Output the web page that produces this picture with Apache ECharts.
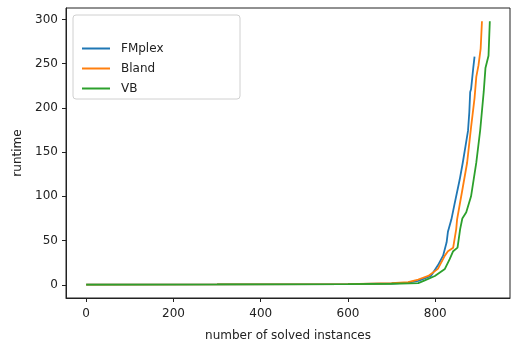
<!DOCTYPE html>
<html>
<head>
<meta charset="utf-8">
<script src="https://cdn.jsdelivr.net/npm/echarts@6/dist/echarts.min.js"></script>
<style>
html,body{margin:0;padding:0;background:#fff;}
#chart{width:518px;height:347px;}
</style>
</head>
<body>
<div id="chart"></div>
<script>
const seriesNames = ['FMplex', 'Bland', 'VB'];
const seriesColors = ['#1f77b4', '#ff7f0e', '#2ca02c'];
const xTicks = [0, 200, 400, 600, 800];
const yTicks = [0, 50, 100, 150, 200, 250, 300];

const fmplexData = [[0,0.3],[300,0.4],[600,0.8],[700,1.5],[738,2.5],[761,4.5],[790,10],[806,22],[818,33],[826,48],[829,60],[837,74],[844,91],[856,119],[863,138],[869,156],[875,174],[878,195],[880,218],[882,221],[887,245],[890,258]];
const blandData = [[0,0.3],[300,0.4],[600,0.8],[700,1.8],[738,3],[761,6],[784,10],[806,18],[822,33],[829,38],[841,42],[848,63],[850,74],[863,110],[873,138],[882,178],[890,211],[894,235],[899,248],[904,267],[907,298]];
const vbData = [[0,0.3],[300,0.4],[600,0.8],[700,1.2],[761,2],[776,5],[799,10],[822,18],[833,29],[841,38],[851,42],[857,63],[862,75],[871,82],[882,100],[894,138],[903,175],[911,218],[915,245],[922,259],[925,298]];
const allData = [fmplexData, blandData, vbData];

const chart = echarts.init(document.getElementById('chart'), null, {renderer: 'canvas'});
const font = 'DejaVu Sans';
const axisCol = '#222';

chart.setOption({
  animation: false,
  backgroundColor: '#fff',
  textStyle: {fontFamily: font},
  grid: {left: 66, right: 8, top: 8, bottom: 48, show: true, borderColor: axisCol, borderWidth: 1, backgroundColor: 'transparent'},
  graphic: [{
    type: 'rect', z: 50, zlevel: 0,
    shape: {x: 73, y: 15, width: 167, height: 84, r: 3},
    style: {fill: 'rgba(255,255,255,0.8)', stroke: '#d0d0d0', lineWidth: 1}
  }],
  legend: {
    z: 60,
    orient: 'vertical', left: 77, top: 37,
    itemWidth: 28, itemHeight: 2, itemGap: 7,
    icon: 'rect',
    textStyle: {fontFamily: font, fontSize: 12, color: '#222', padding: [0,0,0,6], lineHeight: 13},
    data: seriesNames.map((n, i) => ({name: n, itemStyle: {color: seriesColors[i]}}))
  },
  xAxis: {
    type: 'value', min: -46.25, max: 971.25,
    name: 'number of solved instances', nameLocation: 'middle', nameGap: 32,
    nameTextStyle: {fontFamily: font, fontSize: 12, color: '#222'},
    axisLine: {show: true, onZero: false, lineStyle: {color: axisCol, width: 1}},
    axisTick: {show: true, length: 4, inside: false, customValues: xTicks, lineStyle: {color: axisCol}},
    axisLabel: {customValues: xTicks, margin: 10, fontFamily: font, fontSize: 12, color: '#222'},
    splitLine: {show: false}
  },
  yAxis: {
    type: 'value', min: -14.9, max: 312.9,
    name: 'runtime', nameLocation: 'middle', nameGap: 40, nameRotate: 90,
    nameTextStyle: {fontFamily: font, fontSize: 12, color: '#222'},
    axisLine: {show: true, onZero: false, lineStyle: {color: axisCol, width: 1}},
    axisTick: {show: true, length: 4, inside: false, customValues: yTicks, lineStyle: {color: axisCol}},
    axisLabel: {customValues: yTicks, margin: 8, fontFamily: font, fontSize: 12, color: '#222'},
    splitLine: {show: false}
  },
  series: allData.map((d, i) => ({
    name: seriesNames[i], type: 'line', data: d, showSymbol: false, symbol: 'none',
    lineStyle: {color: seriesColors[i], width: 1.8},
    itemStyle: {color: seriesColors[i]},
    clip: true
  }))
});
</script>
</body>
</html>
